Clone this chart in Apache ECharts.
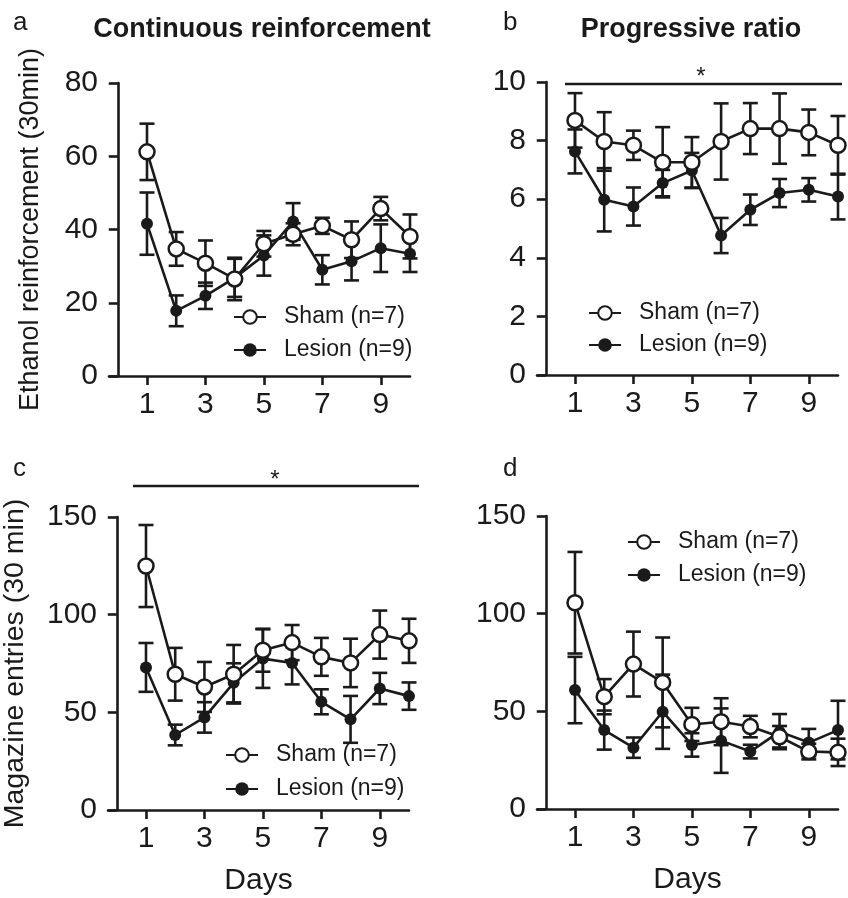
<!DOCTYPE html>
<html>
<head>
<meta charset="utf-8">
<script src="https://cdn.jsdelivr.net/npm/echarts@6/dist/echarts.min.js"></script>
<style>html,body{margin:0;padding:0;background:#fff}#c{width:848px;height:898px}</style>
</head>
<body>
<div id="c"></div>
<script>
var days = [1, 2, 3, 4, 5, 6, 7, 8, 9, 10];
var dayTicks = [1, 3, 5, 7, 9];
var shamName = 'Sham (n=7)';
var lesionName = 'Lesion (n=9)';

// Panel a: Continuous reinforcement
var aShamMean = [61.2, 34.7, 30.8, 26.5, 36.1, 38.7, 41.0, 37.2, 45.7, 38.1];
var aShamErr  = [7.7, 4.6, 6.2, 5.8, 3.5, 3.0, 2.2, 5.0, 3.2, 6.0];
var aLesMean  = [41.6, 17.8, 21.9, 26.8, 32.9, 42.2, 29.0, 31.3, 34.9, 33.4];
var aLesErr   = [8.5, 4.2, 3.6, 5.2, 5.5, 5.0, 4.0, 5.2, 6.5, 5.0];
// Panel b: Progressive ratio
var bShamMean = [8.69, 7.97, 7.84, 7.26, 7.26, 7.97, 8.41, 8.41, 8.28, 7.84];
var bShamErr  = [0.93, 1.0, 0.5, 1.2, 0.86, 1.3, 0.87, 1.2, 0.78, 1.0];
var bLesMean  = [7.63, 5.98, 5.75, 6.55, 6.98, 4.76, 5.64, 6.21, 6.32, 6.09];
var bLesErr   = [0.75, 1.08, 0.65, 0.45, 0.6, 0.6, 0.52, 0.48, 0.4, 0.78];
// Panel c: Magazine entries, continuous reinforcement
var cShamMean = [124.9, 69.5, 63.0, 69.5, 81.8, 85.7, 78.4, 75.3, 89.8, 86.6];
var cShamErr  = [21, 13.5, 12.8, 15, 11, 9, 9.7, 12.4, 12.3, 11.3];
var cLesMean  = [73.0, 38.4, 47.4, 65.1, 77.5, 75.3, 55.4, 46.4, 62.2, 58.3];
var cLesErr   = [12.5, 5.3, 7.8, 10, 15, 11, 6.4, 12, 8, 7];
// Panel d: Magazine entries, progressive ratio
var dShamMean = [105.6, 57.5, 74.2, 64.8, 43.3, 44.7, 42.2, 37.0, 29.4, 29.0];
var dShamErr  = [26, 9, 16.6, 23, 8.5, 12, 5.5, 5.5, 4, 7];
var dLesMean  = [60.9, 40.4, 31.4, 49.8, 32.8, 35.0, 29.4, 39.6, 34.0, 40.4];
var dLesErr   = [17, 10, 5.2, 19, 6, 16.5, 3.5, 9, 7, 15];

var yMax = [80, 10, 150, 150];
var yInterval = [20, 2, 50, 50];
var yNames = ['Ethanol reinforcement (30min)', '', 'Magazine entries (30 min)', ''];

var INK = '#1a1a1a';
var FONT = '"Liberation Sans", Arial, Helvetica, sans-serif';

var panels = [
  {sham: aShamMean, shamErr: aShamErr, les: aLesMean, lesErr: aLesErr},
  {sham: bShamMean, shamErr: bShamErr, les: bLesMean, lesErr: bLesErr},
  {sham: cShamMean, shamErr: cShamErr, les: cLesMean, lesErr: cLesErr},
  {sham: dShamMean, shamErr: dShamErr, les: dLesMean, lesErr: dLesErr}
];

var gridPos = [
  {left: 109, top: 83, width: 301, height: 293},
  {left: 537, top: 82, width: 301, height: 293},
  {left: 108, top: 517, width: 301, height: 293},
  {left: 537, top: 516, width: 301, height: 293}
];
var legendPos = [
  {left: 233, top: 305.5, itemGap: 10},
  {left: 588, top: 301.5, itemGap: 9},
  {left: 225, top: 743.5, itemGap: 11},
  {left: 627, top: 530.5, itemGap: 10}
];

function renderErr(params, api) {
  var x = api.value(0), m = api.value(1), e = api.value(2);
  var top = api.coord([x, m + e]);
  var bot = api.coord([x, m - e]);
  var hw = 7.5;
  var st = {stroke: INK, lineWidth: 2.6};
  return {
    type: 'group',
    children: [
      {type: 'line', shape: {x1: top[0], y1: top[1], x2: bot[0], y2: bot[1]}, style: st},
      {type: 'line', shape: {x1: top[0] - hw, y1: top[1], x2: top[0] + hw, y2: top[1]}, style: st},
      {type: 'line', shape: {x1: bot[0] - hw, y1: bot[1], x2: bot[0] + hw, y2: bot[1]}, style: st}
    ]
  };
}

function pairs(vals) { return days.map(function (d, i) { return [d, vals[i]]; }); }
function triples(vals, errs) { return days.map(function (d, i) { return [d, vals[i], errs[i]]; }); }

var grids = [], xAxes = [], yAxes = [], series = [], legends = [];
panels.forEach(function (p, k) {
  grids.push(Object.assign({outerBoundsMode: 'none', containLabel: false}, gridPos[k]));
  xAxes.push({
    type: 'value', gridIndex: k, min: -0.3, max: 10,
    name: k >= 2 ? 'Days' : '',
    nameLocation: 'middle', nameGap: 56,
    nameTextStyle: {fontSize: 30, color: INK, fontFamily: FONT},
    axisLine: {lineStyle: {color: INK, width: 2.6}},
    axisTick: {show: true, length: 9, lineStyle: {color: INK, width: 2.6}, customValues: dayTicks},
    axisLabel: {fontSize: 30, color: INK, fontFamily: FONT, margin: 14, customValues: dayTicks},
    splitLine: {show: false}
  });
  yAxes.push({
    type: 'value', gridIndex: k, min: 0, max: yMax[k], interval: yInterval[k],
    name: yNames[k], nameLocation: 'middle', nameGap: k === 0 ? 65 : 78,
    nameTextStyle: {fontSize: k === 0 ? 27 : 28.5, color: INK, fontFamily: FONT},
    axisLine: {show: true, onZero: true, lineStyle: {color: INK, width: 2.6}},
    axisTick: {show: true, length: 9, lineStyle: {color: INK, width: 2.6}},
    axisLabel: {fontSize: 30, color: INK, fontFamily: FONT, margin: 11},
    splitLine: {show: false}
  });
  series.push({
    type: 'custom', name: 'errSham' + k, xAxisIndex: k, yAxisIndex: k, z: 1,
    renderItem: renderErr, data: triples(p.sham, p.shamErr), silent: true
  });
  series.push({
    type: 'custom', name: 'errLes' + k, xAxisIndex: k, yAxisIndex: k, z: 1,
    renderItem: renderErr, data: triples(p.les, p.lesErr), silent: true
  });
  series.push({
    type: 'line', name: lesionName, xAxisIndex: k, yAxisIndex: k, z: 3,
    data: pairs(p.les), symbol: 'circle', symbolSize: 12, showAllSymbol: true,
    lineStyle: {color: INK, width: 2.6},
    itemStyle: {color: INK, borderColor: INK, borderWidth: 0}
  });
  series.push({
    type: 'line', name: shamName, xAxisIndex: k, yAxisIndex: k, z: 4,
    data: pairs(p.sham), symbol: 'circle', symbolSize: 15, showAllSymbol: true,
    lineStyle: {color: INK, width: 2.6},
    itemStyle: {color: '#ffffff', borderColor: INK, borderWidth: 2.5}
  });
  legends.push({
    data: [shamName, lesionName], orient: 'vertical',
    left: legendPos[k].left, top: legendPos[k].top, itemGap: legendPos[k].itemGap,
    padding: 0, itemWidth: 32, itemHeight: 17, selectedMode: false,
    textStyle: {fontSize: 23, lineHeight: 23, color: INK, fontFamily: FONT, padding: [0, 0, 0, 13]}
  });
});

var graphics = [
  {type: 'text', style: {text: 'a', x: 13, y: 23, fontSize: 26, fontFamily: FONT, fill: INK, textVerticalAlign: 'middle'}},
  {type: 'text', style: {text: 'b', x: 503, y: 23, fontSize: 26, fontFamily: FONT, fill: INK, textVerticalAlign: 'middle'}},
  {type: 'text', style: {text: 'c', x: 13, y: 469, fontSize: 26, fontFamily: FONT, fill: INK, textVerticalAlign: 'middle'}},
  {type: 'text', style: {text: 'd', x: 503, y: 469, fontSize: 26, fontFamily: FONT, fill: INK, textVerticalAlign: 'middle'}},
  {type: 'text', style: {text: 'Continuous reinforcement', x: 262, y: 30, fontSize: 27, fontWeight: 'bold', fontFamily: FONT, fill: INK, textAlign: 'center', textVerticalAlign: 'middle'}},
  {type: 'text', style: {text: 'Progressive ratio', x: 691, y: 30, fontSize: 27, fontWeight: 'bold', fontFamily: FONT, fill: INK, textAlign: 'center', textVerticalAlign: 'middle'}},
  {type: 'line', shape: {x1: 565, y1: 84, x2: 842, y2: 84}, style: {stroke: INK, lineWidth: 2.6}},
  {type: 'text', style: {text: '*', x: 701, y: 77, fontSize: 24, fontFamily: FONT, fill: INK, textAlign: 'center', textVerticalAlign: 'middle'}},
  {type: 'line', shape: {x1: 133, y1: 486, x2: 419, y2: 486}, style: {stroke: INK, lineWidth: 2.6}},
  {type: 'text', style: {text: '*', x: 275, y: 480, fontSize: 24, fontFamily: FONT, fill: INK, textAlign: 'center', textVerticalAlign: 'middle'}}
];

var chart = echarts.init(document.getElementById('c'), null, {renderer: 'canvas'});
chart.setOption({
  animation: false,
  backgroundColor: '#ffffff',
  textStyle: {fontFamily: FONT},
  grid: grids,
  xAxis: xAxes,
  yAxis: yAxes,
  legend: legends,
  series: series,
  graphic: graphics
});
</script>
</body>
</html>
